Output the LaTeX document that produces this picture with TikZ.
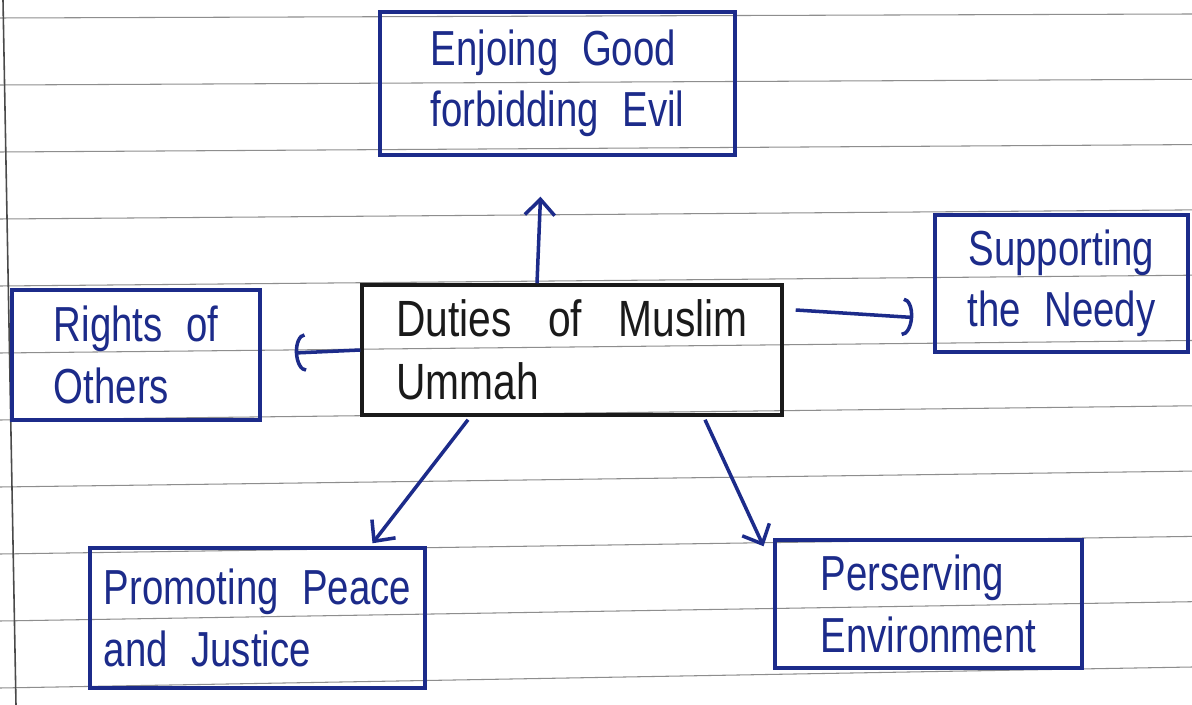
\documentclass[tikz,border=0pt]{standalone}
\usepackage{fontspec}
\usepackage{tikz}
\usetikzlibrary{arrows.meta,positioning,calc}
\newfontfamily\handfont[FakeStretch=0.78,WordSpace=2.2]{Liberation Sans}
\newfontfamily\hubfont[FakeStretch=0.8,WordSpace=3.2]{Liberation Sans}
\definecolor{inkBlue}{HTML}{1C2B8A}
\definecolor{inkBlack}{HTML}{1A1A1A}
\definecolor{ruleGray}{HTML}{8E8E8E}
\definecolor{marginGray}{HTML}{4A4A4A}
\tikzset{
  dutybox/.style={draw=inkBlue,line width=2pt,text=inkBlue,align=left,
    font=\handfont\fontsize{28}{35}\selectfont,inner sep=0pt},
  hubbox/.style={dutybox,draw=inkBlack,text=inkBlack,font=\hubfont\fontsize{29}{36}\selectfont},
  link/.style={inkBlue,line width=2pt},
  barb/.style={-{Straight Barb[length=9pt,width=17pt]}},
  arcbarb/.style={-{Arc Barb[length=6pt,width=22pt]}},
}
\begin{document}
\begin{tikzpicture}[x=0.02cm,y=-0.02cm]
  \useasboundingbox[fill=white] (0,0) rectangle (1192,705);
  % ruled paper
  \foreach \k in {0,...,10} {
    \draw[ruleGray,line width=0.6pt] (0,18+67*\k) -- (1192,14+65.3*\k);
  }
  \draw[marginGray,line width=0.9pt] (3,0) -- (16,705);

  \node[hubbox,minimum width=8.4cm,minimum height=2.6cm] (duties) at (572,350) {Duties of Muslim\\Ummah};
  \node[dutybox,minimum width=7.1cm,minimum height=2.86cm] (enjoin) at (557.5,83.5) {Enjoing Good\\forbidding Evil};
  \node[dutybox,minimum width=4.96cm,minimum height=2.6cm] (rights) at (136,355) {Rights of\\Others};
  \node[dutybox,align=center,minimum width=5.06cm,minimum height=2.74cm] (needy) at (1061.5,283.5) {Supporting\\the Needy};
  \node[dutybox,minimum width=6.7cm,minimum height=2.8cm] (peace) at (257.5,618) {Promoting Peace\\and Justice};
  \node[dutybox,minimum width=6.14cm,minimum height=2.56cm] (environ) at (928.5,604) {Perserving\\Environment};

  \draw[link,barb] ($(duties.north)+(-35,0)$) -- ($(enjoin.south)+(-17,40)$);
  \draw[link,arcbarb] (duties.west) -- ($(rights.east)+(33,-2)$);
  \draw[link,arcbarb] ($(duties.east)+(12,-40)$) -- ($(needy.west)+(-20,34)$);
  \draw[link,barb] ($(duties.south)+(-104,3)$) -- ($(peace.north)+(115,-3)$);
  \draw[link,barb] ($(duties.south)+(133,3)$) -- ($(environ.north)+(-165,8)$);
\end{tikzpicture}
\end{document}
